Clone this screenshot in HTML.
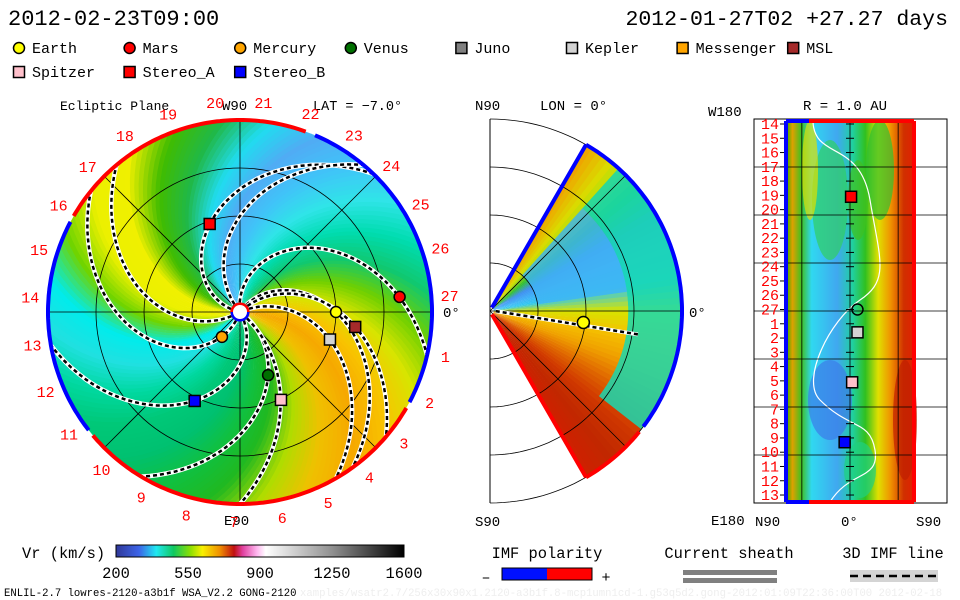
<!DOCTYPE html>
<html><head><meta charset="utf-8"><style>
body{margin:0;background:#fff}
svg{display:block;font-family:"Liberation Mono",monospace}
</style></head><body>
<svg id="s" width="960" height="600" viewBox="0 0 960 600" xmlns="http://www.w3.org/2000/svg">
<defs>
<clipPath id="disc"><circle cx="240" cy="312" r="192"/></clipPath>
<linearGradient id="cbar" x1="0" x2="1" y1="0" y2="0">
<stop offset="0" stop-color="#303898"/><stop offset="0.08" stop-color="#3c64e8"/><stop offset="0.14" stop-color="#20e8f0"/><stop offset="0.2" stop-color="#10c860"/><stop offset="0.26" stop-color="#90e000"/><stop offset="0.3" stop-color="#f8f000"/><stop offset="0.36" stop-color="#f09000"/><stop offset="0.41" stop-color="#c01010"/><stop offset="0.44" stop-color="#e040a0"/><stop offset="0.49" stop-color="#ffb8f0"/><stop offset="0.52" stop-color="#ffffff"/><stop offset="0.75" stop-color="#909090"/><stop offset="1" stop-color="#000"/>
</linearGradient>
<linearGradient id="rgrad" x1="0" x2="1" y1="0" y2="0">
<stop offset="0" stop-color="#20b000"/><stop offset="0.05" stop-color="#e0a000"/><stop offset="0.12" stop-color="#40c020"/><stop offset="0.2" stop-color="#30d8f0"/><stop offset="0.4" stop-color="#40a8f0"/><stop offset="0.52" stop-color="#20d0a0"/><stop offset="0.62" stop-color="#30c020"/><stop offset="0.72" stop-color="#e0e000"/><stop offset="0.82" stop-color="#f09000"/><stop offset="0.92" stop-color="#d03000"/><stop offset="1" stop-color="#e02000"/>
</linearGradient>
</defs>
<g id="texts">
<text x="8" y="25" font-size="22">2012-02-23T09:00</text>
<text x="948" y="25" font-size="21.5" text-anchor="end">2012-01-27T02 +27.27 days</text>
<text x="60" y="110" font-size="13">Ecliptic Plane</text>
<text x="222" y="110" font-size="14">W90</text>
<text x="313" y="110" font-size="13.5">LAT = −7.0°</text>
<text x="224" y="525" font-size="14">E90</text>
<text x="443" y="317" font-size="14">0°</text>
<text x="475" y="110" font-size="14">N90</text>
<text x="540" y="110" font-size="14">LON = 0°</text>
<text x="475" y="526" font-size="14">S90</text>
<text x="689" y="317" font-size="14">0°</text>
<text x="708" y="116" font-size="14">W180</text>
<text x="803" y="110" font-size="14">R = 1.0 AU</text>
<text x="711" y="525" font-size="14">E180</text>
<text x="755" y="526" font-size="14">N90</text>
<text x="841" y="526" font-size="14">0°</text>
<text x="916" y="526" font-size="14">S90</text>
<text x="22" y="558" font-size="15.4">Vr (km/s)</text>
<text x="547" y="558" font-size="15.4" text-anchor="middle">IMF polarity</text>
<text x="729" y="558" font-size="15.4" text-anchor="middle">Current sheath</text>
<text x="893" y="558" font-size="15.4" text-anchor="middle">3D IMF line</text>
<text x="486" y="582" font-size="15" text-anchor="middle">–</text>
<text x="606" y="582" font-size="15" text-anchor="middle">+</text>
<text x="4" y="596" font-size="10.6">ENLIL-2.7 lowres-2120-a3b1f WSA_V2.2 GONG-2120</text>
<text x="300" y="596" font-size="10.6" fill="#eeeeee">xamples/wsatr2.7/256x30x90x1.2120-a3b1f.8-mcp1umn1cd-1.g53q5d2.gong-2012:01:09T22:36:00T00  2012-02-18</text>
</g>
<rect x="116" y="545" width="288" height="12" fill="url(#cbar)" stroke="#000" stroke-width="1"/>
<rect x="502" y="568" width="45" height="12" fill="#0010ff"/>
<rect x="547" y="568" width="45" height="12" fill="#ff0000"/>
<rect x="502" y="568" width="90" height="12" fill="none" stroke="#000"/>
<rect x="683" y="570" width="94" height="5" fill="#808080"/>
<rect x="683" y="578" width="94" height="5" fill="#808080"/>
<rect x="850" y="570" width="88" height="12" fill="#d4d4d4"/>
<line x1="850" y1="576" x2="938" y2="576" stroke="#000" stroke-width="2.5" stroke-dasharray="8 5"/>
<g id="legend"></g>
<g id="left" clip-path="url(#disc)"></g>
<g id="leftover"></g>
<g id="mid"></g>
<g id="right"></g>
</svg>
<script>
// ---- data ----
const bodyNames=["Earth","Mars","Mercury","Venus","Juno","Kepler","Messenger","MSL","Spitzer","Stereo_A","Stereo_B"];
const bodyColors=["#ffff00","#ff0000","#ffa500","#007000","#808080","#d3d3d3","#ffa500","#a52a2a","#ffc0cb","#ff0000","#0000ff"];
const bodyShapes=["c","c","c","c","s","s","s","s","s","s","s"];
const bodyR=[1.0,1.67,0.32,0.72,null,0.98,null,1.21,1.01,0.97,1.04];
const bodyLon=[0,5.4,234,-66,null,-17,null,-7.4,-65,109,243];
const bandColors=["#f6a800","#f8c400","#d8e400","#70d000","#10c870","#00dcb0","#30e4e8","#40c4f8","#50acf4","#20dcf0","#20b848","#40bc00","#f0f000","#ecf000","#70d400","#00ecec","#20e0e0","#00d8a0","#00c878","#00c070","#10c040","#20b820","#b0dc00","#f0c000"];
const spiralTheta0=[168,97,54,24,43.5,-35,300,251,-40,210,130];
const spiralK=[61,55,54,42,42,43,55,55,25,40,40];
const midLat=[60,50,40,30,20,10,0,-10,-20,-30,-40,-50,-60];
const midColors=["#f0a000","#d8e000","#30c030","#4090f0","#40b0f8","#30c8f0","#d8e400","#f4c000","#f0a000","#e06800","#d03800","#c02800","#d02000"];
const carrLabels=[14,15,16,17,18,19,20,21,22,23,24,25,26,27,1,2,3,4,5,6,7,8,9,10,11,12,13];
const rightBodyIdx=[0,5,8,9,10];
const rightBodyLat=[-7,-7,-2,-1,5];
const rightBodyPos=[13,14.6,18.1,5.1,22.3];
const cbarTicks=[200,550,900,1250,1600];
const discLabelStart=-12.4, discLabelStep=-13.2;

const NS="http://www.w3.org/2000/svg";
function mk(tag,attrs,parent){const e=document.createElementNS(NS,tag);for(const k in attrs)e.setAttribute(k,attrs[k]);parent.appendChild(e);return e;}
function hex(c){return [parseInt(c.slice(1,3),16),parseInt(c.slice(3,5),16),parseInt(c.slice(5,7),16)];}
function lerpC(a,b,t){const A=hex(a),B=hex(b);return "rgb("+A.map((v,i)=>Math.round(v+(B[i]-v)*t)).join(",")+")";}
// ---- left disc scales ----
const CX=240,CY=312,PX=96;
function lx(r,deg){return CX+r*PX*Math.cos(deg*Math.PI/180);}
function ly(r,deg){return CY-r*PX*Math.sin(deg*Math.PI/180);}
const L=document.getElementById('left');
const KB=28;
for(let j=0;j<180;j++){
  const t0=j*2, f=t0/15, i0=Math.floor(f)%24, i1=(i0+1)%24;
  const col=lerpC(bandColors[i0],bandColors[i1],f-Math.floor(f));
  let pts=[];
  for(let r=0;r<=2.1;r+=0.1)pts.push(lx(r,t0-KB*r).toFixed(1)+","+ly(r,t0-KB*r).toFixed(1));
  for(let r=2.1;r>=0;r-=0.1)pts.push(lx(r,t0+2.3-KB*r).toFixed(1)+","+ly(r,t0+2.3-KB*r).toFixed(1));
  const p=mk('polygon',{points:pts.join(" "),fill:col},L);
  
  
}
[0.5,1,1.5].forEach(r=>{const c=mk('circle',{cx:CX,cy:CY,r:r*PX,fill:"none",stroke:"#000","stroke-width":0.8},L);
});
[0,45,90,135].forEach(a=>{const l=mk('line',{x1:lx(2,a),y1:ly(2,a),x2:lx(2,a+180),y2:ly(2,a+180),stroke:"#000","stroke-width":0.8},L);
});
spiralTheta0.forEach((t0,i)=>{
  let d="";for(let r=0.1;r<=2.05;r+=0.05){const a=t0-spiralK[i]*r;d+=(d?"L":"M")+lx(r,a).toFixed(1)+","+ly(r,a).toFixed(1);}
  const w=mk('path',{d:d,fill:"none",stroke:"#fff","stroke-width":4.5},L);
  
  const b=mk('path',{d:d,fill:"none",stroke:"#000","stroke-width":2.5,"stroke-dasharray":"4 3"},L);
  
});
const LO=document.getElementById('leftover');
function arc(g,cx,cy,R,a0,a1,col,w,name){const p=[];for(let a=a0;a<=a1+0.01;a+=1)p.push((cx+R*Math.cos(a*Math.PI/180)).toFixed(1)+","+(cy-R*Math.sin(a*Math.PI/180)).toFixed(1));
 const e=mk('polyline',{points:p.join(" "),fill:"none",stroke:col,"stroke-width":w},g);}
arc(LO,CX,CY,192,70,150,"#ff0000",4,"rim-positive");
arc(LO,CX,CY,192,-28,67,"#0000ff",4,"rim-negative");
arc(LO,CX,CY,192,-140,-30,"#ff0000",4,"rim-positive");
arc(LO,CX,CY,192,152,218,"#0000ff",4,"rim-negative");
arc(LO,CX,CY,8,0,180,"#ff0000",3,"sun-rim");arc(LO,CX,CY,8,180,360,"#0000ff",3,"sun-rim");
const sun=mk('circle',{cx:CX,cy:CY,r:7,fill:"#fff"},LO);
for(let n=1;n<=27;n++){const a=discLabelStart+(n-1)*discLabelStep;
 const t=mk('text',{x:lx(2.19,a),y:ly(2.19,a)+5,"font-size":15,fill:"#ff0000","text-anchor":"middle"},LO);t.textContent=n;
 }
function marker(g,shape,x,y,col,name,sz){let e;
 if(shape==="c")e=mk('circle',{cx:x,cy:y,r:sz/2,fill:col,stroke:"#000","stroke-width":1.5},g);
 else e=mk('rect',{x:x-sz/2,y:y-sz/2,width:sz,height:sz,fill:col,stroke:"#000","stroke-width":1.5},g);
 return e;}
bodyNames.forEach((n,i)=>{if(bodyR[i]==null)return;marker(LO,bodyShapes[i],lx(bodyR[i],bodyLon[i]),ly(bodyR[i],bodyLon[i]),bodyColors[i],n.toLowerCase()+'-marker',11);});
const LG=document.getElementById('legend');
bodyNames.forEach((n,i)=>{const row=i<8?0:1,col=i<8?i:i-8;const x=19+col*110.6,y=48+row*24;
 marker(LG,bodyShapes[i],x,y,bodyColors[i],'legend-'+n.toLowerCase(),11);
 const t=mk('text',{x:x+13,y:y+5,"font-size":15},LG);t.textContent=n;});
cbarTicks.forEach((v,i)=>{const t=mk('text',{x:116+(v-200)/1400*288,y:578,"font-size":15.4,"text-anchor":"middle"},LG);t.textContent=v;
 });
// ---- middle panel ----
const M=document.getElementById('mid');const MX=490,MY=311,MR=192;
function mx(r,lat){return MX+r*MR*Math.cos(lat*Math.PI/180);}function my(r,lat){return MY-r*MR*Math.sin(lat*Math.PI/180);}
for(let lat=-60;lat<60;lat+=2){const f=(60-lat-1)/10,i0=Math.min(12,Math.floor(f)),i1=Math.min(12,i0+1);
 const col=lerpC(midColors[i0],midColors[i1],f-Math.floor(f));
 const p=mk('polygon',{points:[mx(0.02,lat),my(0.02,lat),mx(1,lat),my(1,lat),mx(1,lat+2.2),my(1,lat+2.2),mx(0.02,lat+2.2),my(0.02,lat+2.2)].map(v=>v.toFixed(1)).join(" "),fill:col},M);
 }
{let p=[];for(let a=-38;a<=48;a+=2)p.push(mx(0.72,a)+","+my(0.72,a));for(let a=48;a>=-38;a-=2)p.push(mx(1,a)+","+my(1,a));
 const o=mk('polygon',{points:p.join(" "),fill:"#18d8b0",opacity:0.85},M);}
{let p=[];for(let a=8;a<=48;a+=2)p.push(mx(0.25,a)+","+my(0.25,a));for(let a=48;a>=8;a-=2)p.push(mx(0.72,a)+","+my(0.72,a));
 const o=mk('polygon',{points:p.join(" "),fill:"#40b4f4",opacity:0.8},M);}
[0.25,0.5,0.75,1].forEach(r=>{let p=[];for(let a=-90;a<=90;a+=2)p.push(mx(r,a).toFixed(1)+","+my(r,a).toFixed(1));
 const e=mk('polyline',{points:p.join(" "),fill:"none",stroke:"#000","stroke-width":0.8},M);});
[[0,0],[45,0],[-45,0]].forEach(a=>{const e=mk('line',{x1:MX,y1:MY,x2:mx(1,a[0]),y2:my(1,a[0]),stroke:"#000","stroke-width":0.8},M);});
{const e=mk('line',{x1:MX,y1:119,x2:MX,y2:503,stroke:"#000","stroke-width":1},M);}
{const d="M"+mx(0.03,-1)+","+my(0.03,-1)+"L"+mx(0.78,-9)+","+my(0.78,-9);
 const w=mk('path',{d:d,stroke:"#fff","stroke-width":4},M);
 const b=mk('path',{d:d,stroke:"#000","stroke-width":2.5,"stroke-dasharray":"4 3"},M);}
{const e=mk('line',{x1:mx(0.02,60),y1:my(0.02,60),x2:mx(1,60),y2:my(1,60),stroke:"#0000ff","stroke-width":4},M);
 const f=mk('line',{x1:mx(0.02,-60),y1:my(0.02,-60),x2:mx(1,-60),y2:my(1,-60),stroke:"#ff0000","stroke-width":4},M);}
arc(M,MX,MY,MR,-37,60,"#0000ff",4,"wedge-rim-negative");arc(M,MX,MY,MR,-60,-39,"#ff0000",4,"wedge-rim-positive");
marker(M,"c",mx(0.49,-7),my(0.49,-7),"#ffff00","mid-earth",12);
// ---- right panel ----
const R=document.getElementById('right');
function rx(lat){return 850-lat*1.07;}function ry(i){return 124+i*14.27;}
{const e=mk('rect',{x:786,y:121,width:128,height:381,fill:"url(#rgrad)"},R);}
[[830,400,22,40,"#3c7ce8"],[858,200,10,40,"#40c020"],[830,200,18,60,"#30d060"],[905,420,12,60,"#c02000"],[880,170,14,50,"#30c030"],[810,170,8,50,"#e0e000"],[860,470,16,28,"#20d080"]].forEach(b=>{
 const e=mk('ellipse',{cx:b[0],cy:b[1],rx:b[2],ry:b[3],fill:b[4],opacity:0.7},R);});
{const e=mk('path',{d:"M813,122 C815,160 860,140 870,200 C880,260 890,280 860,300 C830,320 800,380 820,400 C850,430 870,420 875,450 C880,480 850,470 830,502",fill:"none",stroke:"#fff","stroke-width":1.2},R);}
{const e=mk('rect',{x:754,y:119,width:193,height:384,fill:"none",stroke:"#000"},R);}
[167,215,263,311,359,407,455].forEach(y=>{const e=mk('line',{x1:754,y1:y,x2:947,y2:y,stroke:"#000","stroke-width":0.8},R);});
[45,0,-45].forEach(l=>{const e=mk('line',{x1:rx(l),y1:119,x2:rx(l),y2:503,stroke:"#000","stroke-width":0.8},R);});
carrLabels.forEach((v,i)=>{const t=mk('text',{x:779,y:ry(i)+5,"font-size":15,fill:"#ff0000","text-anchor":"end"},R);t.textContent=v;
 const k=mk('line',{x1:780,y1:ry(i),x2:786,y2:ry(i),stroke:"#000"},R);
 const k2=mk('line',{x1:846,y1:ry(i),x2:854,y2:ry(i),stroke:"#000"},R);});
[[786,121,786,502,"#0000ff"],[786,121,809,121,"#0000ff"],[809,121,914,121,"#ff0000"],[914,121,914,502,"#ff0000"],[786,502,809,502,"#0000ff"],[809,502,914,502,"#ff0000"]].forEach(s=>{
 const e=mk('line',{x1:s[0],y1:s[1],x2:s[2],y2:s[3],stroke:s[4],"stroke-width":4},R);});
rightBodyIdx.forEach((bi,k)=>{marker(R,bodyShapes[bi],rx(rightBodyLat[k]),ry(rightBodyPos[k]),bi===0?"none":bodyColors[bi],'r-'+bodyNames[bi].toLowerCase(),11);});
</script>
</body></html>
